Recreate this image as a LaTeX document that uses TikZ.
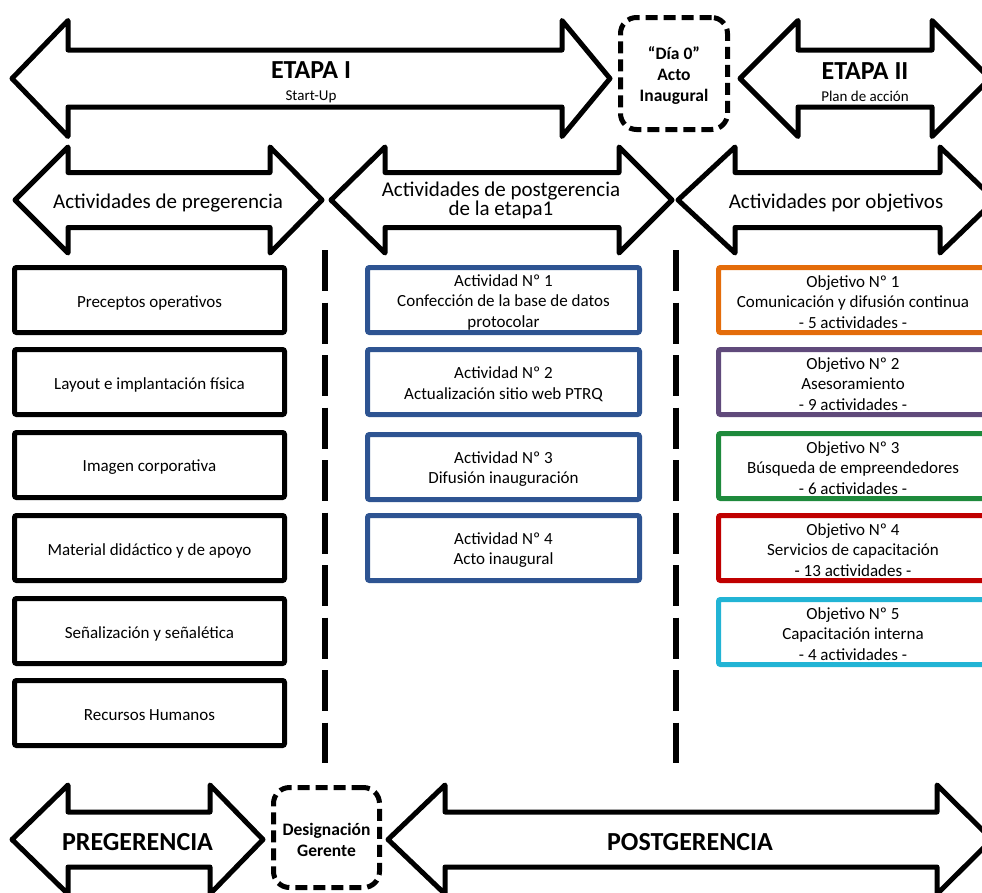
\documentclass[tikz,border=0pt]{standalone}
\usepackage{fontspec}
\setmainfont{Carlito}
\definecolor{actblue}{HTML}{2E5492}
\definecolor{objorange}{HTML}{E46C0A}
\definecolor{objpurple}{HTML}{604A7B}
\definecolor{objgreen}{HTML}{1E8A3C}
\definecolor{objred}{HTML}{C00000}
\definecolor{objcyan}{HTML}{22B4D5}
% Double-headed block arrow:
% #1 left tip x, #2 left head base x, #3 right head base x, #4 right tip x,
% #5 centre y, #6 head half-height, #7 shaft half-height
\newcommand{\dblarrow}[7]{%
  \draw[arrowline] (#1,#5) -- (#2,#5-#6) -- (#2,#5-#7) -- (#3,#5-#7) -- (#3,#5-#6)
    -- (#4,#5) -- (#3,#5+#6) -- (#3,#5+#7) -- (#2,#5+#7) -- (#2,#5+#6) -- cycle;}
\begin{document}
\begin{tikzpicture}[x=1pt,y=-1pt,
  arrowline/.style={draw=black,line width=5pt,line join=round,fill=white},
  stagetitle/.style={font=\fontsize{26}{30}\selectfont\bfseries,anchor=base,inner sep=0pt},
  stagesub/.style={font=\fontsize{15}{18}\selectfont,anchor=base,inner sep=0pt},
  grouplabel/.style={font=\fontsize{21}{18}\selectfont,align=center,inner sep=0pt},
  boxtext/.style={font=\fontsize{17}{20.5}\selectfont,align=center,text=black},
  plainbox/.style={boxtext,draw=black,line width=5pt,rounded corners=2pt,
    minimum width=270pt,minimum height=65pt,inner sep=0pt},
  actbox/.style={plainbox,draw=actblue,minimum width=272pt},
  objbox/.style={plainbox,minimum width=269pt},
  milestone/.style={draw=black,line width=5pt,dash pattern=on 12pt off 6pt,
    rounded corners=16pt,font=\fontsize{17.5}{21}\selectfont\bfseries,
    align=center,inner sep=0pt,fill=white},
  sepline/.style={draw=black,line width=6.5pt,dash pattern=on 41pt off 11.5pt}
]
\useasboundingbox (0,0) rectangle (982,892);

% ---- Stage arrows ----
\dblarrow{12}{68}{562}{610}{78.5}{58}{28.5}
\node[stagetitle] (etapa1) at (311,78.5) {ETAPA I};
\node[stagesub] (startup) at (311,100.5) {Start-Up};

\node[milestone,minimum width=107pt,minimum height=112pt] (dia0) at (674,73.5) {};
\node[milestone,draw=none,fill=none] (dia0txt) at (674,76) {“Día 0”\\Acto\\Inaugural};

\dblarrow{740}{798}{932}{990}{78.5}{58}{28.5}
\node[stagetitle] (etapa2) at (865,79) {ETAPA II};
\node[stagesub] (plan) at (865,101.5) {Plan de acción};

% ---- Activity group arrows ----
\dblarrow{15}{68}{270}{322}{200}{53}{27.5}
\node[grouplabel,anchor=base] (pregAct) at (168,208) {Actividades de pregerencia};

\dblarrow{331}{385}{619}{672}{200}{53}{27.5}
\node[grouplabel] (postAct) at (501,200) {Actividades de postgerencia\\de la etapa1};

\dblarrow{678}{735}{940}{995}{200}{53}{27.5}
\node[grouplabel,anchor=base] (objAct) at (836,208) {Actividades por objetivos};

% ---- Column separators ----
\coordinate (sepAtop) at (325,250);
\coordinate (sepAbot) at (325,763);
\coordinate (sepBtop) at (676,250);
\coordinate (sepBbot) at (676,763);
\draw[sepline] (sepAtop) -- (sepAbot);
\draw[sepline] (sepBtop) -- (sepBbot);

% ---- Pre-management boxes (frame + text nudged to optical centre) ----
\foreach \nm/\yy/\txt in {p1/300/Preceptos operativos,
                          p2/382/Layout e implantación física,
                          p3/465/Imagen corporativa,
                          p4/548/Material didáctico y de apoyo,
                          p5/631/Señalización y señalética,
                          p6/713/Recursos Humanos}{
  \node[plainbox] (\nm) at (149.5,\yy) {};
  \node[boxtext] (\nm txt) at (149.5,\yy+2.5) {\txt};
}

% ---- Post-management activities ----
\node[actbox] (a1) at (503.5,300) {};
\node[boxtext] (a1txt) at (503.5,302) {Actividad Nº 1\\Confección de la base de datos\\protocolar};
\node[actbox] (a2) at (503.5,382) {};
\node[boxtext] (a2txt) at (503.5,384) {Actividad Nº 2\\Actualización sitio web PTRQ};
\node[actbox] (a3) at (503.5,467) {};
\node[boxtext] (a3txt) at (503.5,469) {Actividad Nº 3\\Difusión inauguración};
\node[actbox] (a4) at (503.5,548) {};
\node[boxtext] (a4txt) at (503.5,550) {Actividad Nº 4\\Acto inaugural};

% ---- Objectives ----
\node[objbox,draw=objorange] (o1) at (853,300) {};
\node[boxtext] (o1txt) at (853,302) {Objetivo Nº 1\\Comunicación y difusión continua\\- 5 actividades -};
\node[objbox,draw=objpurple] (o2) at (853,382) {};
\node[boxtext] (o2txt) at (853,384) {Objetivo Nº 2\\Asesoramiento\\- 9 actividades -};
\node[objbox,draw=objgreen] (o3) at (853,466) {};
\node[boxtext] (o3txt) at (853,468) {Objetivo Nº 3\\Búsqueda de empreendedores\\- 6 actividades -};
\node[objbox,draw=objred] (o4) at (853,548) {};
\node[boxtext] (o4txt) at (853,550) {Objetivo Nº 4\\Servicios de capacitación\\- 13 actividades -};
\node[objbox,draw=objcyan] (o5) at (853,632) {};
\node[boxtext] (o5txt) at (853,634) {Objetivo Nº 5\\Capacitación interna\\- 4 actividades -};

% ---- Management phases ----
\dblarrow{12}{68}{210}{263}{839.5}{54.5}{27.5}
\node[stagetitle] (preg) at (137.5,850) {PREGERENCIA};

\node[milestone,minimum width=106pt,minimum height=100pt] (gerente) at (326.5,837.5) {};
\node[milestone,draw=none,fill=none] (gerentetxt) at (326.5,840) {Designación\\Gerente};

\dblarrow{388}{445}{937}{992}{839.5}{54.5}{27.5}
\node[stagetitle] (postg) at (690,850) {POSTGERENCIA};
\end{tikzpicture}
\end{document}
